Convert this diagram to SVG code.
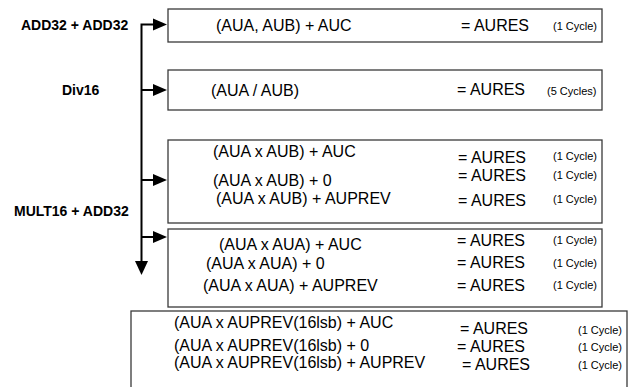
<svg xmlns="http://www.w3.org/2000/svg" width="634" height="387" viewBox="0 0 634 387">
<style>
.box{fill:#fff;stroke:#3a3a3a;stroke-width:1.3}
.lbl{font-family:"Liberation Sans",Arial,sans-serif;font-weight:bold;font-size:14px;fill:#000}
.t{font-family:"Liberation Sans",Arial,sans-serif;font-size:16px;fill:#000}
.c{font-family:"Liberation Sans",Arial,sans-serif;font-size:11px;fill:#000}
.ln{stroke:#000;stroke-width:2;fill:none}
.ah{fill:#000}
</style>
<g id="connectors">
<path class="ln" d="M141.5,262 L141.5,24.5 L154,24.5"/>
<polygon class="ah" points="153,18.5 167,24.5 153,30.5"/>
<line class="ln" x1="141.5" y1="90" x2="154" y2="90"/>
<polygon class="ah" points="153,84 167,90 153,96"/>
<line class="ln" x1="141.5" y1="180" x2="154" y2="180"/>
<polygon class="ah" points="153,174 167,180 153,186"/>
<line class="ln" x1="141.5" y1="237" x2="154" y2="237"/>
<polygon class="ah" points="153,231 167,237 153,243"/>
<polygon class="ah" points="135,261 148,261 141.5,275"/>
</g>
<g id="label-add32">
<text class="lbl" x="21" y="30">ADD32 + ADD32</text>
</g>
<g id="label-div16">
<text class="lbl" x="62" y="95">Div16</text>
</g>
<g id="label-mult16">
<text class="lbl" x="14" y="216">MULT16 + ADD32</text>
</g>
<g id="box-add">
<rect class="box" x="168" y="9" width="434" height="33"/>
<text class="t" x="216" y="31">(AUA, AUB) + AUC</text>
<text class="t" x="461" y="31">= AURES</text>
<text class="c" x="553" y="30">(1 Cycle)</text>
</g>
<g id="box-div">
<rect class="box" x="168" y="70" width="434" height="40"/>
<text class="t" x="211" y="96">(AUA / AUB)</text>
<text class="t" x="457" y="95">= AURES</text>
<text class="c" x="547" y="95">(5 Cycles)</text>
</g>
<g id="box-mult-aub">
<rect class="box" x="168" y="140" width="434" height="83"/>
<text class="t" x="213" y="157">(AUA x AUB) + AUC</text>
<text class="t" x="458" y="163">= AURES</text>
<text class="c" x="553" y="160">(1 Cycle)</text>
<text class="t" x="213" y="186">(AUA x AUB) + 0</text>
<text class="t" x="458" y="181">= AURES</text>
<text class="c" x="553" y="179">(1 Cycle)</text>
<text class="t" x="216" y="204">(AUA x AUB) + AUPREV</text>
<text class="t" x="458" y="206">= AURES</text>
<text class="c" x="553" y="203">(1 Cycle)</text>
</g>
<g id="box-mult-aua">
<rect class="box" x="168" y="229" width="434" height="78"/>
<text class="t" x="219" y="250">(AUA x AUA) + AUC</text>
<text class="t" x="457" y="246">= AURES</text>
<text class="c" x="553" y="244">(1 Cycle)</text>
<text class="t" x="206" y="269">(AUA x AUA) + 0</text>
<text class="t" x="457" y="268">= AURES</text>
<text class="c" x="553" y="267">(1 Cycle)</text>
<text class="t" x="203" y="291">(AUA x AUA) + AUPREV</text>
<text class="t" x="457" y="291">= AURES</text>
<text class="c" x="553" y="289">(1 Cycle)</text>
</g>
<g id="box-mult-auprev">
<rect class="box" x="131" y="311" width="496" height="90"/>
<text class="t" x="174" y="328">(AUA x AUPREV(16lsb) + AUC</text>
<text class="t" x="460" y="334">= AURES</text>
<text class="c" x="578" y="334">(1 Cycle)</text>
<text class="t" x="174" y="351">(AUA x AUPREV(16lsb) + 0</text>
<text class="t" x="457" y="352">= AURES</text>
<text class="c" x="578" y="351">(1 Cycle)</text>
<text class="t" x="174" y="368">(AUA x AUPREV(16lsb) + AUPREV</text>
<text class="t" x="462" y="370">= AURES</text>
<text class="c" x="578" y="369">(1 Cycle)</text>
</g>
</svg>
